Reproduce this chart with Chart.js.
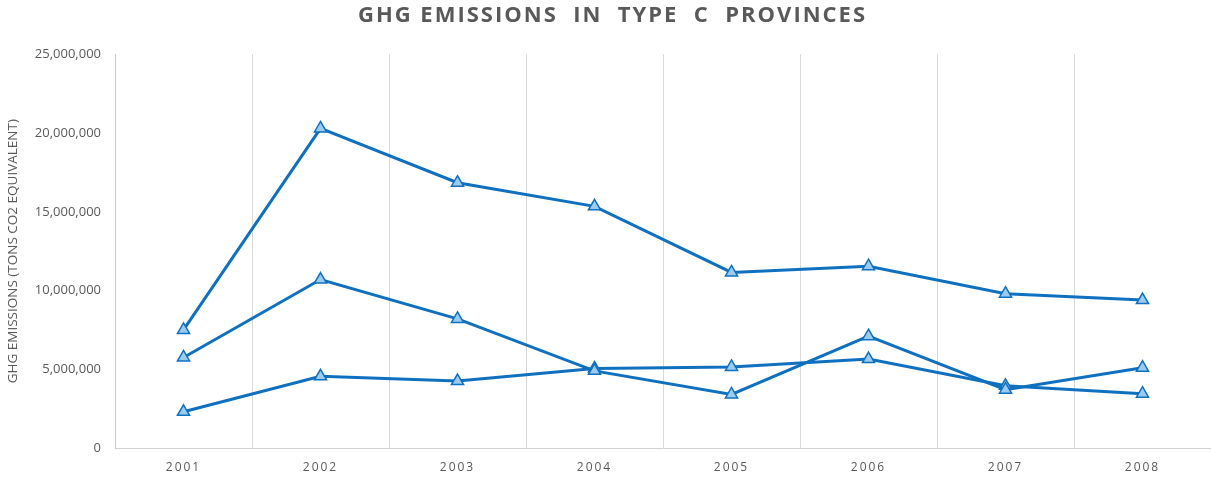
<!DOCTYPE html>
<html>
<head>
<meta charset="utf-8">
<script src="https://cdn.jsdelivr.net/npm/chart.js@4"></script>
<style>
html,body{margin:0;padding:0;background:#fff;}
#wrap{width:1211px;height:480px;position:relative;}
</style>
</head>
<body>
<div id="wrap"><canvas id="c" width="1211" height="480"></canvas></div>
<script>
const categories = ['2001','2002','2003','2004','2005','2006','2007','2008'];
const seriesA = [7500000, 20300000, 16850000, 15350000, 11150000, 11550000, 9800000, 9400000];
const seriesB = [5750000, 10700000, 8200000, 4900000, 3400000, 7100000, 3700000, 5100000];
const seriesC = [2300000, 4550000, 4250000, 5050000, 5150000, 5650000, 3950000, 3450000];
const yTicks = [0, 5000000, 10000000, 15000000, 20000000, 25000000];
const titleText = 'GHG EMISSIONS  IN  TYPE  C  PROVINCES';
const yTitleText = 'GHG EMISSIONS (TONS CO2 EQUIVALENT)';

const LINE = '#0F70C0';
const FILL = '#9BCBF0';
const GRAY = '#595959';

function ds(data){
  return {
    data: data,
    borderColor: LINE,
    borderWidth: 3,
    pointStyle: 'triangle',
    pointRadius: 7,
    pointHoverRadius: 7,
    pointBackgroundColor: FILL,
    pointBorderColor: LINE,
    pointBorderWidth: 1.5,
    tension: 0,
    fill: false
  };
}

const spacingPlugin = {
  id: 'spacing',
  beforeDraw(chart){
    const x = chart.scales.x;
    if (x && !x._sp) {
      const orig = x.drawLabels;
      x.drawLabels = function(a){ const ctx = this.ctx; ctx.save(); ctx.letterSpacing = '2px'; orig.call(this, a); ctx.restore(); };
      x._sp = true;
    }
    const t = chart.titleBlock;
    if (t && !t._sp) {
      const o = t.draw;
      t.draw = function(){ const ctx = this.ctx; ctx.save(); ctx.translate(7, 0); ctx.letterSpacing = '2px'; o.call(this); ctx.restore(); };
      t._sp = true;
    }
  }
};

new Chart(document.getElementById('c'), {
  type: 'line',
  data: { labels: categories, datasets: [ds(seriesA), ds(seriesB), ds(seriesC)] },
  plugins: [spacingPlugin],
  options: {
    responsive: false,
    animation: false,
    layout: { autoPadding: false, padding: { left: 0, right: 0, top: 0, bottom: 0 } },
    plugins: {
      legend: { display: false },
      tooltip: { enabled: false },
      title: {
        display: true,
        text: titleText,
        color: GRAY,
        font: { family: 'Open Sans', size: 22, weight: 'bold', lineHeight: 1.2 },
        padding: { top: 3, bottom: 25 }
      }
    },
    scales: {
      x: {
        offset: true,
        grid: {
          offset: true,
          drawTicks: false,
          color: (ctx) => ctx.index === categories.length ? 'rgba(0,0,0,0)' : '#D9D9D9',
          lineWidth: 1
        },
        border: { display: true, color: '#D0D0D0', width: 1 },
        ticks: { color: GRAY, padding: 12, font: { family: 'Open Sans', size: 12 } },
        afterFit(s){ s.height = 32; }
      },
      y: {
        min: 0, max: 25000000,
        afterBuildTicks(s){ s.ticks = yTicks.map(v => ({ value: v })); },
        grid: { display: false, drawTicks: false },
        border: { display: true, color: '#C8C8C8', width: 1 },
        ticks: {
          color: GRAY, padding: 14,
          font: { family: 'Open Sans', size: 13 },
          callback: (v) => v.toLocaleString('en-US')
        },
        title: {
          display: true, text: yTitleText, color: GRAY,
          font: { family: 'Open Sans', size: 13.5 },
          padding: { top: 5, bottom: 0 }
        },
        afterFit(s){ s.width = 115; }
      }
    }
  }
});
</script>
</body>
</html>
